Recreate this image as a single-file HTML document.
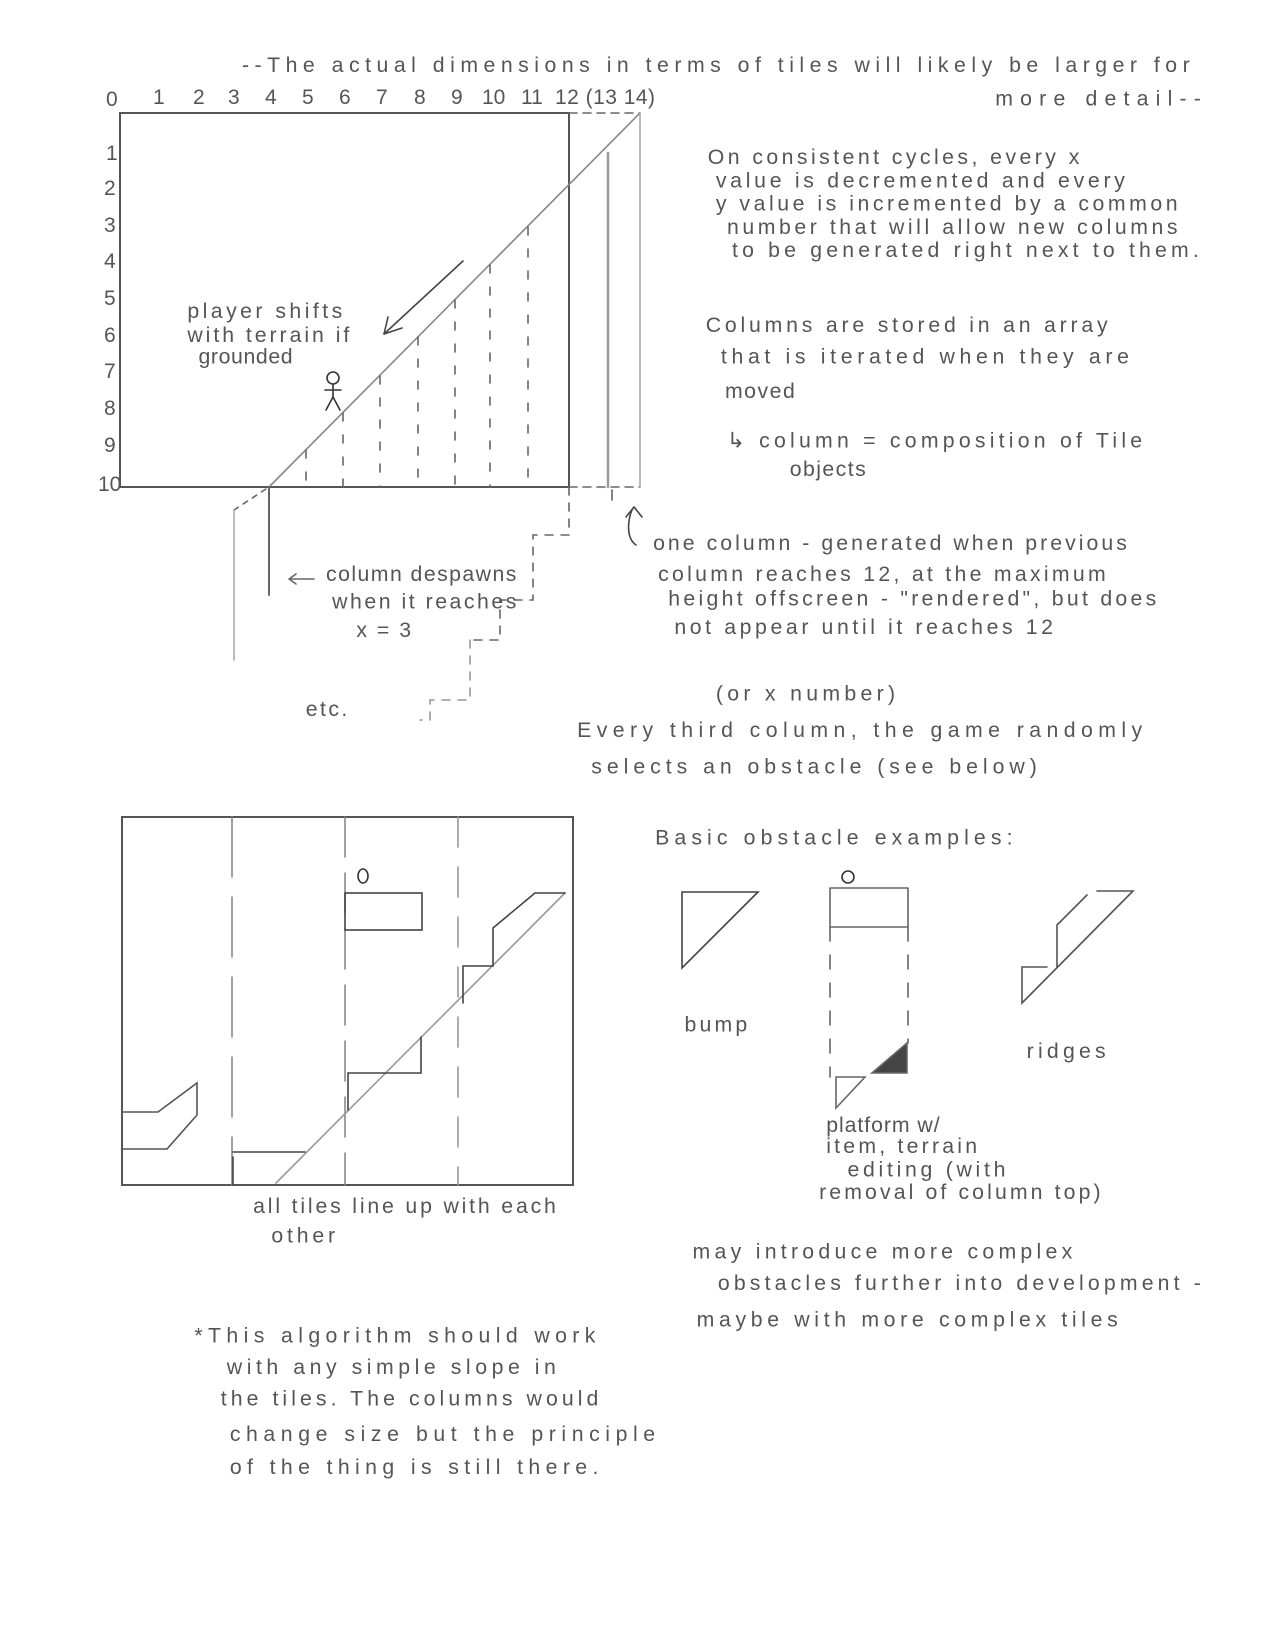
<!DOCTYPE html>
<html><head><style>
html,body{margin:0;padding:0;background:#fff;}
svg{display:block}
text{font-family:"Liberation Sans",sans-serif;fill:#555;font-size:21px;}
</style></head><body>
<svg width="1275" height="1650" viewBox="0 0 1275 1650" xmlns="http://www.w3.org/2000/svg">
<g stroke="#666" fill="none" stroke-width="1.6" stroke-linecap="round">
<!-- top diagram -->
<rect x="120" y="113" width="449" height="374" stroke="#555" stroke-width="2"/>
<line x1="569" y1="113" x2="640" y2="113" stroke-dasharray="8,6"/>
<line x1="569" y1="487" x2="640" y2="487" stroke-dasharray="8,6"/>
<line x1="269" y1="487" x2="640" y2="113" stroke="#888"/>
<line x1="234" y1="510" x2="269" y2="487" stroke-dasharray="5,6"/>
<line x1="608" y1="153" x2="608" y2="487" stroke="#999" stroke-width="2.5"/>
<line x1="640" y1="113" x2="640" y2="487" stroke="#aaa"/>
<g stroke-dasharray="8,14">
<line x1="306" y1="450" x2="306" y2="487"/><line x1="343" y1="413" x2="343" y2="487"/>
<line x1="380" y1="376" x2="380" y2="487"/><line x1="418" y1="337" x2="418" y2="487"/>
<line x1="455" y1="300" x2="455" y2="487"/><line x1="490" y1="265" x2="490" y2="487"/>
<line x1="528" y1="227" x2="528" y2="487"/>
</g>
<line x1="269" y1="487" x2="269" y2="595" stroke-width="2"/>
<line x1="234" y1="510" x2="234" y2="660" stroke="#aaa"/>
<path d="M569 487 V535 H533 V600 H500 V640 H470" stroke-dasharray="8,8"/>
<path d="M470 640 V700 H430 V720 H420" stroke-dasharray="8,8" stroke="#999"/>
<line x1="612" y1="490" x2="612" y2="500" />
<line x1="463" y1="261" x2="384" y2="334" stroke="#444"/>
<path d="M384 334 L388 317 M384 334 L402 328" stroke="#444"/>
<circle cx="333" cy="378" r="6" stroke="#333"/>
<path d="M333 384 V397 M325 390 H341 M333 397 L326 410 M333 397 L340 410" stroke="#333"/>
<path d="M636 545 C624 537 629 512 634 507 M634 507 L626 517 M634 507 L642 517" stroke="#444"/>
<path d="M289 579 H314 M289 579 L296 574 M289 579 L296 584"/>
<!-- bottom diagram -->
<rect x="122" y="817" width="451" height="368" stroke="#555" stroke-width="2"/>
<line x1="232" y1="817" x2="232" y2="1185" stroke-dasharray="60,20" stroke="#888"/>
<line x1="345" y1="817" x2="345" y2="1185" stroke-dasharray="40,16" stroke="#888"/>
<line x1="458" y1="817" x2="458" y2="1185" stroke-dasharray="30,20" stroke="#999"/>
<rect x="345" y="893" width="77" height="37" stroke="#444"/>
<ellipse cx="363" cy="876" rx="5" ry="7" stroke="#333"/>
<line x1="276" y1="1183" x2="565" y2="893" stroke="#999"/>
<path d="M535 893 H565 M535 893 L493 928 V966 H463 V1003" stroke="#444"/>
<path d="M421 1037 V1073 H348 V1110" stroke="#444"/>
<path d="M233 1152 H305 M233 1157 V1185" stroke="#444"/>
<path d="M123 1112 H158 L197 1083 V1115 M123 1149 H167 L197 1115" stroke="#555"/>
<path d="M682 892 H758 L682 968 Z" stroke="#444"/>
<ellipse cx="848" cy="877" rx="6" ry="6" stroke="#333"/>
<path d="M830 888 H908 M830 927 H908 M830 888 V927 M908 888 V927"/>
<path d="M830 927 V1077 M908 927 V1043" stroke-dasharray="14,14"/>
<path d="M907 1043 L872 1073 H907 Z" fill="#444"/>
<path d="M836 1077 H865 L836 1108 Z"/>
<path d="M1097 891 H1133 L1022 1003 V967 H1047 M1087 895 L1057 925 V968" stroke="#555"/>
</g>
<g font-size="14">
<text x="106" y="106" font-size="14">0</text><text x="153" y="104" font-size="14">1</text><text x="193" y="104" font-size="14">2</text><text x="228" y="104" font-size="14">3</text><text x="265" y="104" font-size="14">4</text><text x="302" y="104" font-size="14">5</text><text x="339" y="104" font-size="14">6</text><text x="376" y="104" font-size="14">7</text><text x="414" y="104" font-size="14">8</text><text x="451" y="104" font-size="14">9</text><text x="482" y="104" font-size="14">10</text><text x="521" y="104" font-size="14">11</text><text x="555" y="104" font-size="14" textLength="100" lengthAdjust="spacing">12 (13  14)</text>
<text x="106" y="160" font-size="14">1</text><text x="104" y="195" font-size="14">2</text><text x="104" y="232" font-size="14">3</text><text x="104" y="268" font-size="14">4</text><text x="104" y="305" font-size="14">5</text><text x="104" y="342" font-size="14">6</text><text x="104" y="378" font-size="14">7</text><text x="104" y="415" font-size="14">8</text><text x="104" y="452" font-size="14">9</text><text x="98" y="491" font-size="14">10</text>
</g>
<g transform="scale(1.0125)">
<text x="239" y="71" font-size="24" textLength="936" lengthAdjust="spacing">--The actual dimensions in terms of tiles will likely be larger for</text>
<text x="983" y="104" font-size="24" textLength="203" lengthAdjust="spacing">more detail--</text>
<text x="185" y="314" textLength="153" lengthAdjust="spacing">player shifts</text>
<text x="185" y="338" textLength="160" lengthAdjust="spacing">with terrain if</text>
<text x="196" y="359" textLength="93" lengthAdjust="spacing">grounded</text>
<text x="322" y="574" textLength="188" lengthAdjust="spacing">column despawns</text>
<text x="328" y="601" textLength="182" lengthAdjust="spacing">when it reaches</text>
<text x="352" y="629" textLength="54" lengthAdjust="spacing">x = 3</text>
<text x="302" y="707" textLength="41" lengthAdjust="spacing">etc.</text>
<text x="699" y="162" textLength="367" lengthAdjust="spacing">On consistent cycles, every x</text>
<text x="707" y="185" textLength="404" lengthAdjust="spacing">value is decremented and every</text>
<text x="707" y="208" textLength="456" lengthAdjust="spacing">y value is incremented by a common</text>
<text x="718" y="231" textLength="445" lengthAdjust="spacing">number that will allow new columns</text>
<text x="723" y="254" textLength="461" lengthAdjust="spacing">to be generated right next to them.</text>
<text x="697" y="328" textLength="397" lengthAdjust="spacing">Columns are stored in an array</text>
<text x="712" y="359" textLength="403" lengthAdjust="spacing">that is iterated when they are</text>
<text x="716" y="393" textLength="69" lengthAdjust="spacing">moved</text>
<text x="718" y="442" textLength="410" lengthAdjust="spacing">↳ column = composition of Tile</text>
<text x="780" y="470" textLength="75" lengthAdjust="spacing">objects</text>
<text x="645" y="543" textLength="468" lengthAdjust="spacing">one column - generated when previous</text>
<text x="650" y="574" textLength="442" lengthAdjust="spacing">column reaches 12, at the maximum</text>
<text x="660" y="598" textLength="482" lengthAdjust="spacing">height offscreen - "rendered", but does</text>
<text x="666" y="626" textLength="374" lengthAdjust="spacing">not appear until it reaches 12</text>
<text x="707" y="692" textLength="177" lengthAdjust="spacing">(or x number)</text>
<text x="570" y="728" textLength="558" lengthAdjust="spacing">Every third column, the game randomly</text>
<text x="584" y="764" textLength="440" lengthAdjust="spacing">selects an obstacle (see below)</text>
<text x="647" y="834" textLength="353" lengthAdjust="spacing">Basic obstacle examples:</text>
<text x="676" y="1019" textLength="62" lengthAdjust="spacing">bump</text>
<text x="1014" y="1045" textLength="78" lengthAdjust="spacing">ridges</text>
<text x="816" y="1118" textLength="112" lengthAdjust="spacing">platform w/</text>
<text x="816" y="1139" textLength="149" lengthAdjust="spacing">item, terrain</text>
<text x="837" y="1162" textLength="156" lengthAdjust="spacing">editing (with</text>
<text x="809" y="1184" textLength="278" lengthAdjust="spacing">removal of column top)</text>
<text x="250" y="1198" textLength="299" lengthAdjust="spacing">all tiles line up with each</text>
<text x="268" y="1227" textLength="63" lengthAdjust="spacing">other</text>
<text x="684" y="1243" textLength="375" lengthAdjust="spacing">may introduce more complex</text>
<text x="709" y="1274" textLength="477" lengthAdjust="spacing">obstacles further into development -</text>
<text x="688" y="1310" textLength="416" lengthAdjust="spacing">maybe with more complex tiles</text>
<text x="192" y="1326" textLength="396" lengthAdjust="spacing">*This algorithm should work</text>
<text x="224" y="1357" textLength="325" lengthAdjust="spacing">with any simple slope in</text>
<text x="218" y="1388" textLength="373" lengthAdjust="spacing">the tiles. The columns would</text>
<text x="227" y="1423" textLength="420" lengthAdjust="spacing">change size but the principle</text>
<text x="227" y="1456" textLength="364" lengthAdjust="spacing">of the thing is still there.</text>
</g>
</svg>
</body></html>
